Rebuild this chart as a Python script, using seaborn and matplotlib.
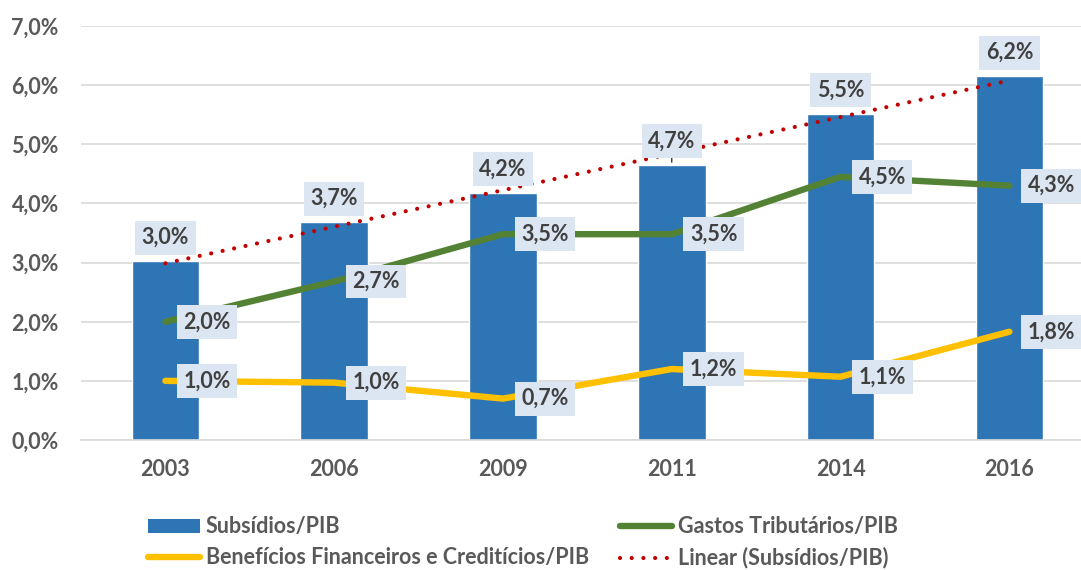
import numpy as np
import pandas as pd
import matplotlib
matplotlib.use("Agg")
import matplotlib.pyplot as plt
from matplotlib.ticker import FuncFormatter, MultipleLocator
from matplotlib.lines import Line2D
from matplotlib.patches import Patch
import seaborn as sns

years = ["2003", "2006", "2009", "2011", "2014", "2016"]
subsidios = [3.02, 3.68, 4.18, 4.65, 5.52, 6.15]
gastos = [2.0, 2.68, 3.48, 3.48, 4.45, 4.3]
beneficios = [1.0, 0.97, 0.7, 1.2, 1.07, 1.83]

labels = ["Subsídios/PIB", "Gastos Tributários/PIB",
          "Benefícios Financeiros e Creditícios/PIB", "Linear (Subsídios/PIB)"]

c_bar = "#2E75B6"
c_green = "#548235"
c_yellow = "#FFC000"
c_red = "#C00000"
c_tick = "#595959"
c_lab = "#404040"
c_box = "#DCE6F2"
FS = 15.5

sns.set_theme(style="white")
plt.rcParams["font.family"] = ["Lato", "DejaVu Sans"]
plt.rcParams["font.weight"] = "bold"

df = pd.DataFrame({"year": years, "sub": subsidios, "gas": gastos, "ben": beneficios})
idx = np.arange(len(years))
coef = np.polyfit(idx + 1, subsidios, 1)
df["trend"] = np.polyval(coef, idx + 1)

fig = plt.figure(figsize=(10.81, 5.70), dpi=100)
ax = fig.add_axes([81 / 1081, 130 / 570, 1012.8 / 1081, 414 / 570])

sns.barplot(data=df, x="year", y="sub", color=c_bar, width=0.4, ax=ax,
            saturation=1, zorder=2)
sns.lineplot(data=df, x="year", y="gas", color=c_green, lw=4.6, ax=ax,
             zorder=3, solid_capstyle="round")
sns.lineplot(data=df, x="year", y="ben", color=c_yellow, lw=4.6, ax=ax,
             zorder=3, solid_capstyle="round")
sns.lineplot(data=df, x="year", y="trend", color=c_red, lw=3.0, ax=ax,
             zorder=4, linestyle=(0, (0.01, 2.8)), dash_capstyle="round")

ax.set_xlim(-0.5, 5.5)
ax.set_ylim(0, 7)
ax.yaxis.set_major_locator(MultipleLocator(1))
ax.yaxis.set_major_formatter(FuncFormatter(lambda v, p: f"{v:.1f}%".replace(".", ",")))
ax.grid(axis="y", color="#D9D9D9", lw=1.2, zorder=0)
ax.set_axisbelow(True)
for s in ["top", "right", "left"]:
    ax.spines[s].set_visible(False)
ax.spines["bottom"].set_color("#D9D9D9")
ax.spines["bottom"].set_linewidth(1.2)
ax.set_xlabel("")
ax.set_ylabel("")
ax.tick_params(axis="both", length=0, labelsize=FS, labelcolor=c_tick)
ax.tick_params(axis="y", pad=16)
ax.tick_params(axis="x", pad=14)
for t in ax.get_xticklabels() + ax.get_yticklabels():
    t.set_fontweight("bold")

def fmt(v):
    return f"{v:.1f}%".replace(".", ",")

bbox = dict(boxstyle="square,pad=0.3", fc=c_box, ec="none")
for i, v in enumerate(subsidios):
    ax.annotate(fmt(v), (i, v), xytext=(0, 9.5), textcoords="offset points",
                ha="center", va="bottom", fontsize=FS, fontweight="bold",
                color=c_lab, bbox=bbox, zorder=6)
for series in (gastos, beneficios):
    for i, v in enumerate(series):
        ax.annotate(fmt(v), (i, v), xytext=(13, 0), textcoords="offset points",
                    ha="left", va="center", fontsize=FS, fontweight="bold",
                    color=c_lab, bbox=bbox, zorder=6)
# leader line for 2011 label
ax.annotate("", (3, subsidios[3]), xytext=(0, 9), textcoords="offset points",
            arrowprops=dict(arrowstyle="-", color="black", lw=0.8), zorder=5)

handles = [
    Patch(facecolor=c_bar, edgecolor="none"),
    Line2D([], [], color=c_yellow, lw=4.6, solid_capstyle="round"),
    Line2D([], [], color=c_green, lw=4.6, solid_capstyle="round"),
    Line2D([], [], color=c_red, lw=3.0, linestyle=(0, (0.01, 2.8)), dash_capstyle="round"),
]
leg = fig.legend(handles, [labels[0], labels[2], labels[1], labels[3]], ncol=2,
                 loc="upper left", bbox_to_anchor=(129 / 1081, 0.128),
                 frameon=False, fontsize=FS, handlelength=2.4, handleheight=0.6,
                 handletextpad=0.27, columnspacing=1.45, labelspacing=0.45)
for t in leg.get_texts():
    t.set_color(c_tick)
    t.set_fontweight("bold")

fig.savefig("out.png", dpi=100)
